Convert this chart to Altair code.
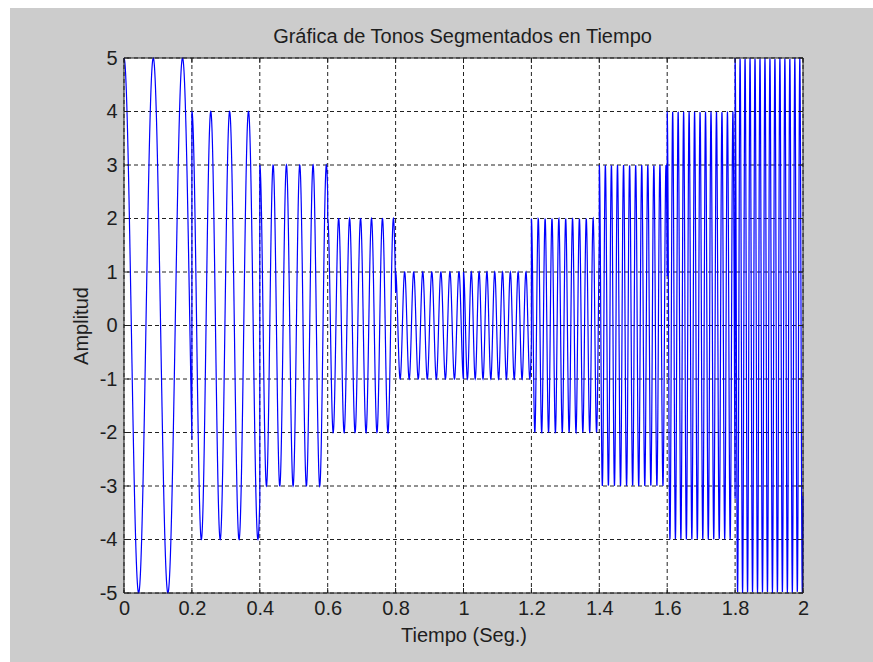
import altair as alt
import numpy as np
import pandas as pd

# Tone segments: start time (s), peak amplitude and tone frequency (Hz)
seg_start = [0.0, 0.2, 0.4, 0.6, 0.8, 1.0, 1.2, 1.4, 1.6, 1.8]
seg_amp = [5, 4, 3, 2, 1, 1, 2, 3, 4, 5]
seg_freq = [11.6, 18.0, 25.5, 31.0, 37.5, 43.5, 49.5, 56.0, 62.0, 68.2]
seg_len = 0.2
fs = 2000  # samples per second

x_ticks = [0, 0.2, 0.4, 0.6, 0.8, 1, 1.2, 1.4, 1.6, 1.8, 2]
y_ticks = [-5, -4, -3, -2, -1, 0, 1, 2, 3, 4, 5]

title_text = "Gráfica de Tonos Segmentados en Tiempo"
x_title = "Tiempo (Seg.)"
y_title = "Amplitud"

# Build the segmented tone signal, one cosine burst per segment
t_parts, y_parts = [], []
for t0, a, f in zip(seg_start, seg_amp, seg_freq):
    tl = np.arange(0, seg_len + 1e-9, 1 / fs)
    t_parts.append(t0 + tl)
    y_parts.append(a * np.cos(2 * np.pi * f * tl))
t_all = np.concatenate(t_parts)
y_all = np.concatenate(y_parts)
signal = pd.DataFrame({"t": t_all, "amp": y_all, "i": np.arange(len(t_all))})

W, H = 679, 535
PAD = {"left": 124, "top": 58, "right": 70, "bottom": 69}
FONT = "Liberation Sans"
INK = "#1e1e1e"

xscale = alt.Scale(domain=[0, 2], nice=False, zero=False)
yscale = alt.Scale(domain=[-5, 5], nice=False, zero=False)

x_axis = alt.Axis(values=x_ticks, labelExpr="toString(datum.value)", title=x_title,
                  labelPadding=5, titlePadding=7, labelFlush=False)
y_axis = alt.Axis(values=y_ticks, labelExpr="toString(datum.value)", title=y_title,
                  labelPadding=7, titlePadding=8)

one = pd.DataFrame({"k": [0]})
xt = pd.DataFrame({"t": x_ticks})
yt = pd.DataFrame({"amp": y_ticks})

# White page strips along the left and top of the gray figure
strip_left = alt.Chart(one).mark_rect(color="#ffffff").encode(
    x=alt.value(-124), x2=alt.value(-114), y=alt.value(-58), y2=alt.value(H + 69)
)
strip_top = alt.Chart(one).mark_rect(color="#ffffff").encode(
    x=alt.value(-124), x2=alt.value(W + 70), y=alt.value(-58), y2=alt.value(-50)
)
# White axes area
axes_bg = alt.Chart(one).mark_rect(color="#ffffff").encode(
    x=alt.value(0), x2=alt.value(W), y=alt.value(0), y2=alt.value(H)
)

# Dotted grid
grid_style = dict(color="#222222", strokeWidth=1, strokeDash=[4, 3])
grid_v = alt.Chart(xt).mark_rule(**grid_style).encode(
    x=alt.X("t:Q", scale=xscale, axis=x_axis)
)
grid_h = alt.Chart(yt).mark_rule(**grid_style).encode(
    y=alt.Y("amp:Q", scale=yscale, axis=y_axis)
)

# Signal trace
trace = alt.Chart(signal).mark_line(color="#0000ff", strokeWidth=1.2).encode(
    x=alt.X("t:Q", scale=xscale, axis=x_axis),
    y=alt.Y("amp:Q", scale=yscale, axis=y_axis),
    order="i:Q",
)

# Inward tick marks on all four sides
tick_style = dict(color=INK, strokeWidth=1)
ticks_bottom = alt.Chart(xt).mark_rule(**tick_style).encode(
    x=alt.X("t:Q", scale=xscale, axis=x_axis), y=alt.value(H), y2=alt.value(H - 5)
)
ticks_top = alt.Chart(xt).mark_rule(**tick_style).encode(
    x=alt.X("t:Q", scale=xscale, axis=x_axis), y=alt.value(0), y2=alt.value(5)
)
ticks_left = alt.Chart(yt).mark_rule(**tick_style).encode(
    y=alt.Y("amp:Q", scale=yscale, axis=y_axis), x=alt.value(0), x2=alt.value(5)
)
ticks_right = alt.Chart(yt).mark_rule(**tick_style).encode(
    y=alt.Y("amp:Q", scale=yscale, axis=y_axis), x=alt.value(W), x2=alt.value(W - 5)
)

# Axes box
frame = alt.Chart(one).mark_rect(fillOpacity=0, stroke=INK, strokeWidth=1).encode(
    x=alt.value(0), x2=alt.value(W), y=alt.value(0), y2=alt.value(H)
)

# Chart title, centred above the axes
title_mark = alt.Chart(one).mark_text(
    text=title_text, font=FONT, fontSize=20, color=INK, align="center", baseline="middle"
).encode(x=alt.value(W / 2 - 1), y=alt.value(-21))

chart = (
    alt.layer(strip_left, strip_top, axes_bg, grid_v, grid_h, trace,
              ticks_bottom, ticks_top, ticks_left, ticks_right, frame, title_mark)
    .properties(
        width=W,
        height=H,
        padding=PAD,
        autosize=alt.AutoSizeParams(type="none"),
        background="#cccccc",
    )
    .configure_view(strokeWidth=0)
    .configure_axis(
        domain=False, ticks=False, grid=False, zindex=1,
        labelFont=FONT, labelFontSize=20, labelColor=INK,
        titleFont=FONT, titleFontSize=20, titleFontWeight="normal", titleColor=INK,
    )
)

chart.save("out.html", embed_options={"renderer": "svg", "actions": False})
